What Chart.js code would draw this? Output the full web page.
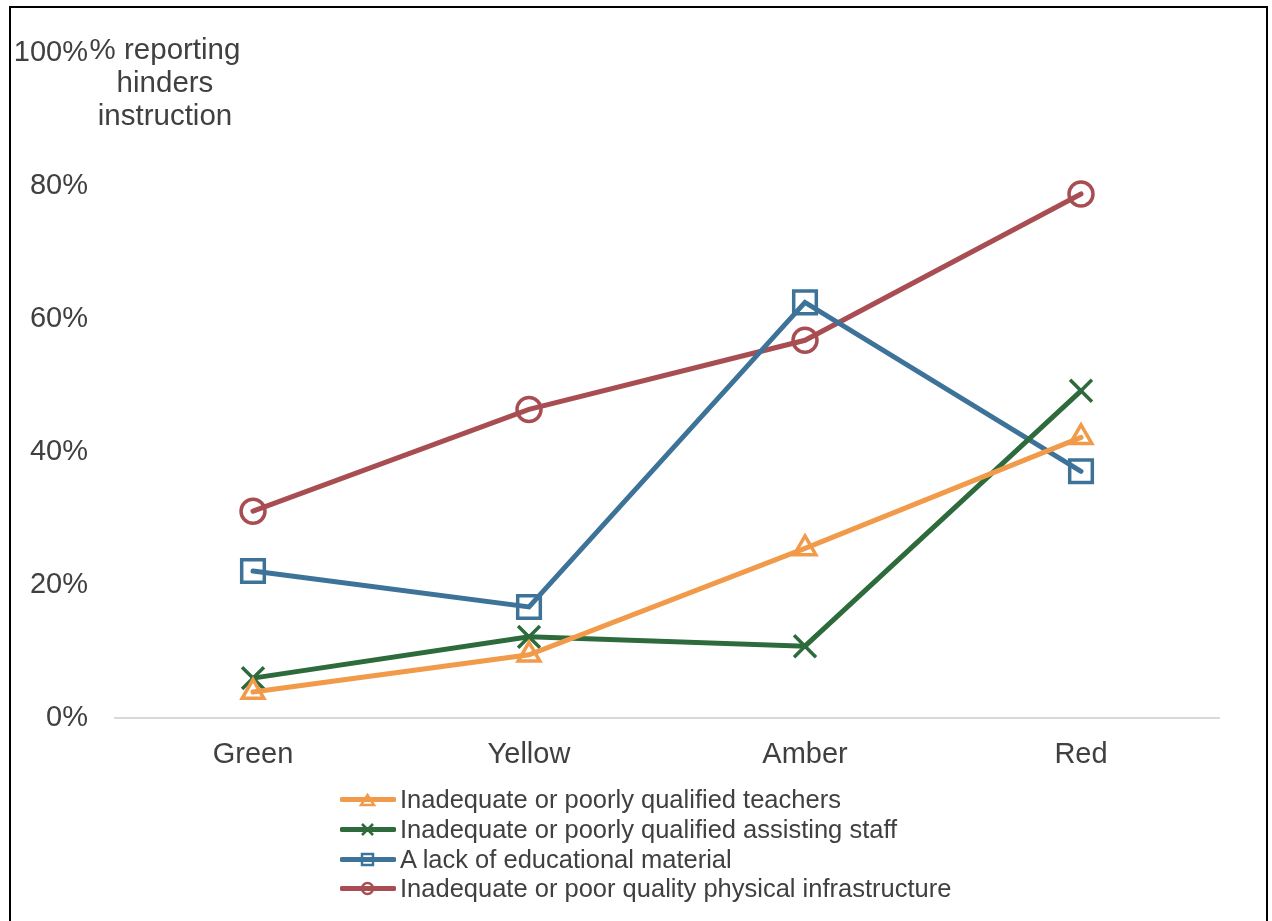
<!DOCTYPE html>
<html>
<head>
<meta charset="utf-8">
<script src="https://cdn.jsdelivr.net/npm/chart.js@4/dist/chart.umd.min.js"></script>
<style>
  html, body { margin: 0; padding: 0; background: #fff; }
  body { width: 1272px; height: 921px; position: relative; overflow: hidden; font-family: "Liberation Sans", Arial, sans-serif; color: #404040; }
  #frame { position: absolute; left: 9px; top: 6px; width: 1259px; height: 940px; border: 2px solid #000; box-sizing: border-box; pointer-events: none; }
  #grafico { position: absolute; left: 0; top: 0; }
  #titulo-y { position: absolute; left: 65px; top: 32px; width: 200px; text-align: center; font-size: 29.5px; line-height: 33px; }
  #legenda { position: absolute; left: 340px; top: 785px; font-size: 25.5px; }
  .leg-item { display: flex; align-items: center; height: 29.7px; white-space: nowrap; }
  .leg-item svg { margin-right: 4px; }
</style>
</head>
<body>
<canvas id="grafico" width="1272" height="921"></canvas>
<div id="titulo-y">% reporting<br>hinders<br>instruction</div>
<div id="legenda"></div>
<div id="frame"></div>
<script>
// Dados
const categorias = ['Green', 'Yellow', 'Amber', 'Red'];
const nomesSeries = [
    'Inadequate or poorly qualified teachers',
    'Inadequate or poorly qualified assisting staff',
    'A lack of educational material',
    'Inadequate or poor quality physical infrastructure'
];
const professores = [3.9, 9.5, 25.5, 42.2];
const assistentes = [6.0, 12.2, 10.8, 49.2];
const material = [22.1, 16.7, 62.5, 37.1];
const infraestrutura = [31.1, 46.4, 56.8, 78.8];
const ticksY = [0, 20, 40, 60, 80, 100];

// Estilos
const cores = ['#F19B4A', '#2E6B3C', '#3D7398', '#A84E53'];
const marcadores = ['triangle', 'crossRot', 'rect', 'circle'];
const raios = [12.5, 15.5, 16, 12];
const valores = [professores, assistentes, material, infraestrutura];

const datasets = valores.map((v, i) => ({
    label: nomesSeries[i],
    data: v,
    borderColor: cores[i],
    backgroundColor: cores[i],
    borderWidth: 5,
    pointStyle: marcadores[i],
    pointRadius: raios[i],
    pointBorderWidth: 3.5,
    pointBorderColor: cores[i],
    pointBackgroundColor: 'rgba(0,0,0,0)',
    tension: 0,
    borderCapStyle: 'round',
    clip: false
}));

Chart.defaults.font.family = '"Liberation Sans", Arial, sans-serif';
Chart.defaults.color = '#404040';

const ctx = document.getElementById('grafico').getContext('2d');
const myChart = new Chart(ctx, {
    type: 'line',
    data: { labels: categorias, datasets: datasets },
    options: {
        responsive: false,
        animation: false,
        layout: { padding: { top: 53, right: 53, left: 0, bottom: 0 } },
        plugins: { legend: { display: false }, tooltip: { enabled: false } },
        scales: {
            x: {
                offset: true,
                grid: { display: false, drawTicks: false },
                border: { display: true, color: '#D9D9D9', width: 2 },
                ticks: { font: { size: 29 }, padding: 20, color: '#404040' },
                afterFit: (scale) => { scale.height = 203; }
            },
            y: {
                min: 0,
                max: 100,
                afterBuildTicks: (scale) => { scale.ticks = ticksY.map(v => ({ value: v })); },
                grid: { display: false, drawTicks: false },
                border: { display: false },
                ticks: { font: { size: 29 }, padding: 27, color: '#404040', callback: (v) => v + '%' },
                afterFit: (scale) => { scale.width = 115; }
            }
        }
    }
});

// Legenda em HTML (linha + marcador)
function iconeSVG(i) {
    const c = cores[i];
    let marca = '';
    if (marcadores[i] === 'triangle') marca = `<polygon points="27.5,6 34,16 21,16" fill="none" stroke="${c}" stroke-width="2.5"/>`;
    if (marcadores[i] === 'crossRot') marca = `<path d="M22,5 L33,16 M33,5 L22,16" stroke="${c}" stroke-width="2.5"/>`;
    if (marcadores[i] === 'rect') marca = `<rect x="22" y="5" width="11" height="11" fill="none" stroke="${c}" stroke-width="2.5"/>`;
    if (marcadores[i] === 'circle') marca = `<circle cx="27.5" cy="10.5" r="5.5" fill="none" stroke="${c}" stroke-width="2.5"/>`;
    return `<svg width="56" height="21" viewBox="0 0 56 21"><line x1="2" y1="10.5" x2="54" y2="10.5" stroke="${c}" stroke-width="5" stroke-linecap="round"/>${marca}</svg>`;
}
const legenda = document.getElementById('legenda');
nomesSeries.forEach((nome, i) => {
    const item = document.createElement('div');
    item.className = 'leg-item';
    item.innerHTML = iconeSVG(i) + '<span>' + nome + '</span>';
    legenda.appendChild(item);
});
</script>
</body>
</html>
